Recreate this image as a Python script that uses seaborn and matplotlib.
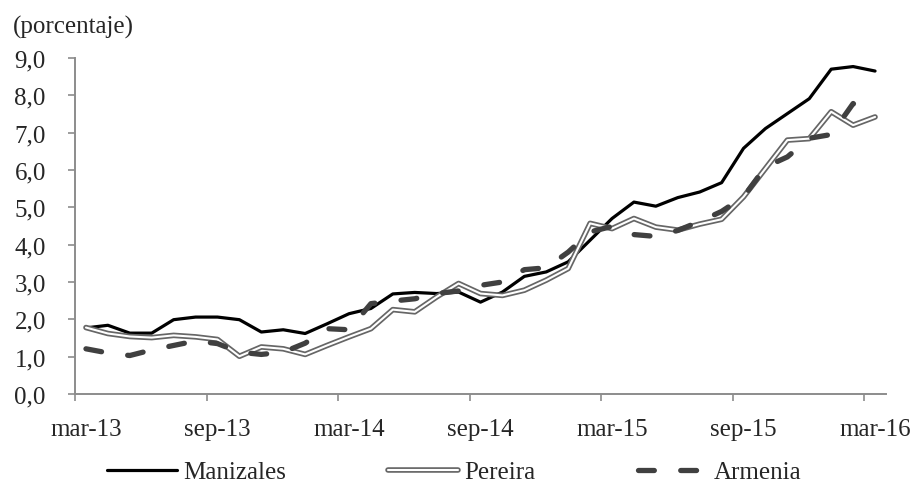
import numpy as np
import pandas as pd
import matplotlib
matplotlib.use("Agg")
import matplotlib.pyplot as plt
import seaborn as sns
from matplotlib.lines import Line2D

# datos mensuales mar-13 .. mar-16 (porcentaje)
meses = pd.date_range("2013-03-01", "2016-03-01", freq="MS")
manizales = [1.77, 1.84, 1.63, 1.63, 1.99, 2.06, 2.06, 1.99, 1.66, 1.72, 1.62, 1.88,
             2.15, 2.29, 2.68, 2.72, 2.69, 2.73, 2.46, 2.73, 3.15, 3.27, 3.54, 4.12,
             4.70, 5.14, 5.03, 5.26, 5.41, 5.66, 6.58, 7.11, 7.51, 7.91, 8.70, 8.77, 8.65]
pereira = [1.78, 1.62, 1.54, 1.51, 1.57, 1.53, 1.46, 1.01, 1.26, 1.21, 1.06, 1.30,
           1.53, 1.75, 2.26, 2.20, 2.60, 2.96, 2.69, 2.64, 2.78, 3.05, 3.36, 4.57,
           4.43, 4.70, 4.47, 4.39, 4.55, 4.68, 5.28, 6.04, 6.80, 6.84, 7.56, 7.20, 7.42]
armenia = [1.21, 1.10, 1.03, 1.18, 1.30, 1.42, 1.35, 1.12, 1.06, 1.12, 1.36, 1.75,
           1.72, 2.42, 2.49, 2.55, 2.69, 2.76, 2.91, 3.00, 3.33, 3.38, 3.80, 4.34,
           4.49, 4.27, 4.22, 4.38, 4.62, 4.89, 5.28, 6.08, 6.35, 6.85, 6.95, 7.78, 7.42]
tick_labels = ["mar-13", "sep-13", "mar-14", "sep-14", "mar-15", "sep-15", "mar-16"]
y_ticks = [0, 1, 2, 3, 4, 5, 6, 7, 8, 9]

df = pd.DataFrame({"mes": meses, "Manizales": manizales,
                   "Pereira": pereira, "Armenia": armenia})
df["pos"] = np.arange(len(df))

sns.set_style("white")
plt.rcParams["font.family"] = ["Liberation Serif", "DejaVu Serif"]
fs = 18

fig = plt.figure(figsize=(9.17, 4.85), dpi=100)
ax = fig.add_axes([0.0818, 0.1856, 0.8844, 0.6928])

gris_eje = "#8c8c8c"
c_arm = "#404040"
c_per = "#666666"

sns.lineplot(data=df, x="pos", y="Manizales", ax=ax, color="black", lw=2.3)
sns.lineplot(data=df, x="pos", y="Pereira", ax=ax, color=c_per, lw=4.0)
sns.lineplot(data=df, x="pos", y="Pereira", ax=ax, color="white", lw=1.5)
sns.lineplot(data=df, x="pos", y="Armenia", ax=ax, color=c_arm, lw=3.8,
             linestyle=(0, (3, 5)), dash_capstyle="round")

ax.set_xlim(-0.5, len(df) - 0.5)
ax.set_ylim(0, 9)
ax.set_xlabel("")
ax.set_ylabel("")

# ticks entre categorías, etiquetas centradas en la categoría
ax.set_xticks(np.arange(-0.5, len(df), 6))
ax.set_xticklabels([])
ax.set_xticks(np.arange(0, len(df), 6), tick_labels, minor=True)
ax.tick_params(axis="x", which="major", length=5, width=1.2, color=gris_eje, direction="out", bottom=True)
ax.tick_params(axis="x", which="minor", length=0, pad=17, labelsize=fs)

ax.set_yticks(y_ticks)
ax.set_yticklabels([f"{v:.1f}".replace(".", ",") for v in y_ticks])
ax.tick_params(axis="y", length=5, width=1.2, color=gris_eje, direction="out", left=True, pad=16, labelsize=fs)

sns.despine(ax=ax)
for s in ["left", "bottom"]:
    ax.spines[s].set_color(gris_eje)
    ax.spines[s].set_linewidth(1.4)

fig.text(13 / 917, 1 - 27 / 485, "(porcentaje)", fontsize=fs, va="center", ha="left")

h_man = Line2D([], [], color="black", lw=2.3)
h_per = (Line2D([], [], color=c_per, lw=4.0), Line2D([], [], color="white", lw=1.5))
h_arm = Line2D([], [], color=c_arm, lw=3.8, linestyle=(0, (3, 5)), dash_capstyle="round")
fig.legend([h_man, h_per, h_arm], ["Manizales", "Pereira", "Armenia"],
           loc="center left", bbox_to_anchor=(107 / 917, 1 - 473 / 485),
           ncol=3, frameon=False, fontsize=fs, handlelength=2.8,
           handletextpad=0.24, columnspacing=4.1, borderpad=0, borderaxespad=0)

fig.savefig("out.png", dpi=100)
